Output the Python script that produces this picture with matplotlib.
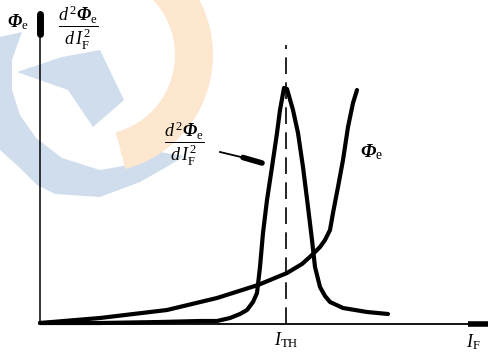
import matplotlib as mpl
import matplotlib.pyplot as pp
from matplotlib.patches import Wedge, Polygon

# schematic curves (units: px right / up from the origin)
peak_x = [0, 60, 120, 160, 177, 190, 200, 207, 213, 217, 220, 223, 227, 232, 237, 240, 244,
          247, 253, 258, 263, 268, 272, 275, 280, 285, 290, 303, 327, 348]
peak_y = [1, 1, 2, 3, 3, 6, 10, 14, 22, 31, 57, 91, 124, 157, 191, 214, 236,
          235, 214, 191, 157, 117, 84, 57, 37, 28, 22, 16, 12, 10]

flux_x = [0, 60, 127, 177, 218, 247, 262, 272, 280, 285, 290, 293, 298, 303, 308, 313, 317]
flux_y = [1, 6, 14, 26, 39, 51, 60, 69, 77, 84, 94, 111, 137, 164, 197, 221, 234]

threshold_x = 246
threshold_top = 279

x_end = 449
y_end = 312

label_flux = r"$\mathbf{\Phi}_{\mathrm{e}}$"
label_second = r"$\dfrac{d^{\,2}\mathbf{\Phi}_{\mathrm{e}}}{d\,I_{\mathrm{F}}^{\,2}}$"
label_ith = r"$I_{\mathrm{TH}}$"
label_if = r"$I_{\mathrm{F}}$"

# background watermark outline (figure pixels)
blue_band = [(0, 37), (0, 150), (20, 168), (37, 185), (55, 194), (100, 197), (140, 182),
             (170, 165), (184, 156), (160, 152), (140, 163), (100, 170), (62, 158), (36, 138),
             (20, 115), (12, 90), (12, 60), (22, 32)]
blue_star = [(17, 72), (62, 57), (100, 50), (124, 100), (93, 127), (68, 90)]


def configure_pp():
    pp.rcParams["font.family"] = "Liberation Serif"
    pp.rcParams["mathtext.fontset"] = "custom"
    pp.rcParams["mathtext.rm"] = "Liberation Serif"
    pp.rcParams["mathtext.it"] = "Liberation Serif:italic"
    pp.rcParams["mathtext.bf"] = "Liberation Serif:italic:bold"


def watermark(fig):
    bg = fig.add_axes([0, 0, 1, 1], zorder=-1)
    bg.set_xlim(0, 489)
    bg.set_ylim(352, 0)
    bg.axis("off")
    bg.add_patch(Polygon(blue_band, closed=True, color="#d0ddec", lw=0))
    bg.add_patch(Polygon(blue_star, closed=True, color="#d0ddec", lw=0))
    bg.add_patch(Wedge((95, 55), 118, -70, 75, width=38, color="#fde7cf", lw=0))


def plot(name):
    fig = pp.figure(figsize=(4.89, 3.52), dpi=100)
    watermark(fig)

    ax = fig.add_axes([40 / 489, 28 / 352, 449 / 489, 312 / 352])
    ax.set_xlim(0, x_end)
    ax.set_ylim(0, y_end)
    ax.axis("off")
    ax.patch.set_alpha(0)

    # axes with their thick ends
    ax.plot([0, 0], [0, y_end], color="k", lw=1.1, clip_on=False)
    ax.plot([0, x_end], [0, 0], color="k", lw=1.3, clip_on=False)
    ax.plot([0, 0], [290, y_end - 2], color="k", lw=5, solid_capstyle="round", clip_on=False)
    ax.plot([428, x_end], [0, 0], color="k", lw=4, solid_capstyle="butt", clip_on=False)

    ax.plot([threshold_x, threshold_x], [0, threshold_top], color="k", lw=1.2,
            dashes=(10, 5), clip_on=False)

    ax.plot(peak_x, peak_y, color="k", lw=3, solid_capstyle="round",
            solid_joinstyle="round", clip_on=False)
    ax.plot(flux_x, flux_y, color="k", lw=3, solid_capstyle="round",
            solid_joinstyle="round", clip_on=False)

    # leader from the label to the peak curve
    ax.plot([180, 205], [172, 166], color="k", lw=1.3, clip_on=False)
    ax.plot([203, 222], [166.5, 161], color="k", lw=4, solid_capstyle="round", clip_on=False)

    ax.text(-22, 302, label_flux, fontsize=13, ha="center", va="center", clip_on=False)
    ax.text(38, 296, label_second, fontsize=13, ha="center", va="center", clip_on=False)
    ax.text(144, 180, label_second, fontsize=13, ha="center", va="center", clip_on=False)
    ax.text(332, 172, label_flux, fontsize=14, ha="center", va="center", clip_on=False)
    ax.text(threshold_x, -16, label_ith, fontsize=13, ha="center", va="center", clip_on=False)
    ax.text(433, -18, label_if, fontsize=13, ha="center", va="center", clip_on=False)

    pp.savefig(f"{name}.png", dpi=100)


if __name__ == "__main__":
    configure_pp()
    plot("out")
